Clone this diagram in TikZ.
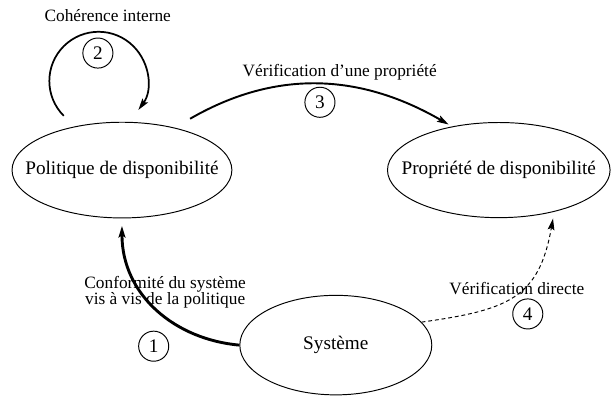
\documentclass[tikz,border=0pt]{standalone}
\usepackage{fontspec}
\setmainfont{Liberation Serif}
\usetikzlibrary{shapes.geometric,arrows.meta}

\begin{document}
\begin{tikzpicture}[
  etat/.style={draw, ellipse, line width=0.5pt, inner xsep=-0.4cm},
  numero/.style={draw, circle, line width=0.5pt, minimum size=0.55cm, inner sep=0pt},
  legende/.style={font=\small, align=center},
  fleche/.style={-{Stealth[length=6pt,width=3.5pt,inset=1pt]}},
]
\useasboundingbox (0,0) rectangle (11.19,7.24);

\node[etat, minimum width=4.02cm, minimum height=1.75cm, outer sep=0.25cm] (pol) at (2.23,4.13) {Politique de disponibilité};
\node[etat, minimum width=4.07cm, minimum height=1.74cm] (prop) at (9.12,4.13) {Propriété de disponibilité};
\node[etat, minimum width=3.51cm, minimum height=1.82cm] (sys) at (6.14,0.93) {Système};

\node[numero] (n1) at (2.81,0.91) {1};
\node[numero] (n2) at (1.79,6.27) {2};
\node[numero] (n3) at (5.85,5.37) {3};
\node[numero] (n4) at (9.65,1.50) {4};

\node[legende] (lcoh) at (1.97,6.96) {Cohérence interne};
\node[legende] (lverif) at (6.21,5.92) {Vérification d'une propriété};
\node[legende, font=\fontsize{9}{8.5}\selectfont] (lconf) at (3.02,1.90) {Conformité du système\\vis à vis de la politique};
\node[legende] (ldir) at (9.45,1.97) {Vérification directe};

\draw[fleche, line width=0.9pt] (pol.137) arc[start angle=225, end angle=-36, radius=0.9cm];
\draw[fleche, line width=1pt, shorten >=2pt] (pol.37) to[out=30,in=150] (prop.137);
\draw[fleche, line width=1.5pt, shorten >=-3pt] (sys.west) to[out=175,in=-90] (pol.south);
\draw[fleche, line width=0.5pt, dash pattern=on 2pt off 1.5pt, shorten >=3.5pt] (sys.15) to[out=8,in=-100,looseness=1.3] (prop.-37);

\end{tikzpicture}
\end{document}
